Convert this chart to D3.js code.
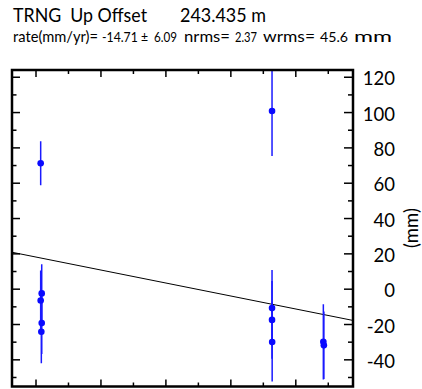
<!DOCTYPE html>
<html>
<head>
<meta charset="utf-8">
<script src="https://cdn.jsdelivr.net/npm/d3@7/dist/d3.min.js"></script>
<style>
  html, body { margin: 0; padding: 0; background: #fff; }
  svg { display: block; }
  text { font-family: Lato, "Open Sans", sans-serif; fill: #000; white-space: pre; }
</style>
</head>
<body>
<script>
// Station TRNG, vertical component: offsets (mm) with 1-sigma errors
const obsTime  = [2010.036, 2010.044, 2010.036, 2010.044, 2010.041,
                  2011.817, 2011.817, 2011.817, 2011.818,
                  2012.212, 2012.216];
const obsValue = [71.3, -2.4, -6.4, -19.2, -24.1,
                  100.9, -10.7, -17.4, -29.9,
                  -29.8, -31.8];
const obsSigma = [12.5, 16.5, 17.0, 17.5, 17.8,
                  25.5, 21.6, 22.0, 22.3,
                  21.3, 19.1];

// Linear fit
const rate = -14.71;        // mm/yr
const trendRefTime = 2011.128;
const trendRefValue = 1.6;  // mm at trendRefTime

// Axes
const timeDomain = [2009.8152, 2012.4403];
const valueDomain = [-55.1, 124.1];
const yTickValues = d3.range(-50, 121, 10);
const yLabelValues = d3.range(-40, 121, 20);
const xTickValues = d3.range(2010, 2012.5, 0.25);

// Header text (numbers are set a little smaller than words)
const titleParts = [
  { text: "TRNG  Up Offset", x: 13, w: 134 },
  { text: "243.435 m", x: 180, w: 86 }
];
const statParts = [
  { text: "rate(mm/yr)=", x: 13, w: 85, size: 15 },
  { text: "-14.71 \u00b1", x: 102, w: 46, size: 13 },
  { text: "6.09", x: 154, w: 23, size: 13 },
  { text: "nrms=", x: 184, w: 46, size: 15 },
  { text: "2.37", x: 235, w: 22, size: 13 },
  { text: "wrms=", x: 263, w: 52, size: 15 },
  { text: "45.6", x: 320, w: 28, size: 13 },
  { text: "mm", x: 354, w: 38, size: 15 }
];

const W = 422, H = 389;
const plot = { left: 12, right: 353, top: 70, bottom: 386.5 };

const svg = d3.select("body").append("svg")
  .attr("width", W).attr("height", H);

const x = d3.scaleLinear().domain(timeDomain).range([plot.left, plot.right]);
const y = d3.scaleLinear().domain(valueDomain).range([plot.bottom, plot.top]);

// Header
svg.append("g").selectAll("text").data(titleParts).join("text")
  .attr("x", d => d.x).attr("y", 22)
  .attr("font-size", 18.5)
  .attr("textLength", d => d.w).attr("lengthAdjust", "spacingAndGlyphs")
  .text(d => d.text);

svg.append("g").selectAll("text").data(statParts).join("text")
  .attr("x", d => d.x).attr("y", 41.5)
  .attr("font-size", d => d.size)
  .attr("textLength", d => d.w).attr("lengthAdjust", "spacingAndGlyphs")
  .text(d => d.text);

// Clip for plotted data
svg.append("defs").append("clipPath").attr("id", "plotClip")
  .append("rect")
  .attr("x", plot.left).attr("y", plot.top)
  .attr("width", plot.right - plot.left).attr("height", plot.bottom - plot.top);

const data = obsTime.map((t, i) => ({ t, v: obsValue[i], s: obsSigma[i] }));

const g = svg.append("g").attr("clip-path", "url(#plotClip)");

// Trend line
const trend = t => trendRefValue + rate * (t - trendRefTime);
g.append("line")
  .attr("x1", x(timeDomain[0])).attr("y1", y(trend(timeDomain[0])))
  .attr("x2", x(timeDomain[1])).attr("y2", y(trend(timeDomain[1])))
  .attr("stroke", "#000").attr("stroke-width", 1);

// Error bars
g.selectAll("line.err").data(data).join("line")
  .attr("class", "err")
  .attr("x1", d => x(d.t)).attr("x2", d => x(d.t))
  .attr("y1", d => y(d.v + d.s)).attr("y2", d => y(d.v - d.s))
  .attr("stroke", "#1a1aff").attr("stroke-width", 1.5);

// Points
g.selectAll("circle").data(data).join("circle")
  .attr("cx", d => x(d.t)).attr("cy", d => y(d.v))
  .attr("r", 3.3)
  .attr("fill", "#0a0aff");

// Ticks (inward on all four sides)
const ticks = svg.append("g").attr("stroke", "#000").attr("stroke-width", 1.5);
const isMajorY = v => Math.abs(v % 20) < 1e-6;
const isMajorX = t => Math.abs((t * 2) % 1) < 1e-6;

ticks.selectAll("line.yl").data(yTickValues).join("line")
  .attr("class", "yl")
  .attr("x1", plot.left).attr("x2", v => plot.left + (isMajorY(v) ? 8 : 4.5))
  .attr("y1", v => y(v)).attr("y2", v => y(v));
ticks.selectAll("line.yr").data(yTickValues).join("line")
  .attr("class", "yr")
  .attr("x1", plot.right).attr("x2", v => plot.right - (isMajorY(v) ? 9 : 5))
  .attr("y1", v => y(v)).attr("y2", v => y(v));
ticks.selectAll("line.xt").data(xTickValues).join("line")
  .attr("class", "xt")
  .attr("x1", t => x(t)).attr("x2", t => x(t))
  .attr("y1", plot.top).attr("y2", t => plot.top + (isMajorX(t) ? 7 : 4));
ticks.selectAll("line.xb").data(xTickValues).join("line")
  .attr("class", "xb")
  .attr("x1", t => x(t)).attr("x2", t => x(t))
  .attr("y1", plot.bottom).attr("y2", t => plot.bottom - (isMajorX(t) ? 7 : 4));

// Frame
svg.append("rect")
  .attr("x", plot.left).attr("y", plot.top)
  .attr("width", plot.right - plot.left).attr("height", plot.bottom - plot.top)
  .attr("fill", "none").attr("stroke", "#000").attr("stroke-width", 2.5);

// Right-hand value labels
svg.append("g").selectAll("text").data(yLabelValues).join("text")
  .attr("x", 395).attr("y", v => y(v) + 8.2)
  .attr("text-anchor", "end")
  .attr("font-size", 18.5)
  .text(v => String(v));

svg.append("text")
  .attr("transform", "translate(418,228) rotate(-90)")
  .attr("text-anchor", "middle")
  .attr("font-size", 18.5)
  .text("(mm)");
</script>
</body>
</html>
